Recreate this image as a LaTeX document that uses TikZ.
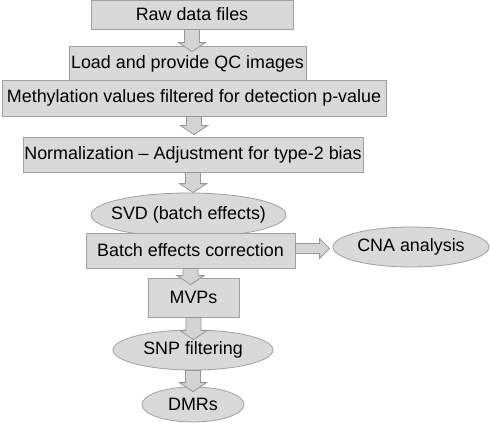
\documentclass[tikz,border=0pt]{standalone}
\usepackage{fontspec}
\setmainfont{Liberation Sans}
\usepackage{tikz}
\usetikzlibrary{calc,shapes.geometric}
\definecolor{boxfill}{RGB}{217,217,217}
\definecolor{boxline}{RGB}{160,160,160}
\definecolor{arrfill}{RGB}{212,212,212}
\definecolor{arrline}{RGB}{150,150,150}

\begin{document}
\begin{tikzpicture}[
      x=1pt, y=-1pt,
      font={\fontsize{17.9}{20}\selectfont},
      stepbox/.style={draw=boxline, fill=boxfill, line width=0.8pt, inner sep=0, align=center},
      roundbox/.style={stepbox, ellipse, inner xsep=-18pt},
      downarrow/.style={draw=arrline, fill=arrfill, line width=0.8pt,
        to path={let \p1=(\tikztostart), \p2=(\tikztotarget) in
          (\x1-7.5pt,\y1) -- (\x1-7.5pt,\y2+9pt) -- (\x1-13.5pt,\y2+9pt) -- (\x1,\y2)
          -- (\x1+13.5pt,\y2+9pt) -- (\x1+7.5pt,\y2+9pt) -- (\x1+7.5pt,\y1) -- cycle}},
      rightarrow/.style={draw=arrline, fill=arrfill, line width=0.8pt,
        to path={let \p1=(\tikztostart), \p2=(\tikztotarget) in
          (\x1,\y1+5pt) -- (\x2-10pt,\y1+5pt) -- (\x2-10pt,\y1+10pt) -- (\x2,\y1)
          -- (\x2-10pt,\y1-10pt) -- (\x2-10pt,\y1-5pt) -- (\x1,\y1-5pt) -- cycle}}
  ]
  \useasboundingbox (0,0) rectangle (490,423);

  \node[stepbox, minimum width=202pt, minimum height=29pt] (raw) at (192,14.5) {Raw data files};
  \node[stepbox, minimum width=237pt, minimum height=35pt] (load) at (187.5,63.5) {Load and provide QC images};
  \node[stepbox, minimum width=384pt, minimum height=36pt] (meth) at (194,98) {Methylation values filtered for detection p-value};
  \node[stepbox, minimum width=340pt, minimum height=35pt] (norm) at (193,154.5) {Normalization – Adjustment for type-2 bias};
  \node[roundbox, minimum width=195pt, minimum height=44pt] (svd) at (188.5,215) {SVD (batch effects)};
  \node[stepbox, minimum width=209pt, minimum height=35pt] (batch) at (190.5,250.5) {Batch effects correction};
  \node[roundbox, minimum width=156pt, minimum height=40pt] (cna) at (411,247) {CNA analysis};
  \node[stepbox, minimum width=91pt, minimum height=39pt] (mvps) at (193.5,297.5) {MVPs};
  \node[roundbox, minimum width=160pt, minimum height=40pt] (snp) at (193,350) {SNP filtering};
  \node[roundbox, minimum width=102pt, minimum height=35pt] (dmrs) at (193,404.5) {DMRs};

  \draw[downarrow] (raw.south) to ([yshift=-6pt]load.north);
  \draw[downarrow] (meth.south) to ([yshift=2pt]norm.north);
  \draw[downarrow] (norm.south) to (svd.north);
  \draw[downarrow] (batch.south) to ([yshift=-7pt]mvps.north);
  \draw[downarrow] (mvps.south) to ([yshift=-10pt]snp.north);
  \draw[downarrow] (snp.south) to ([yshift=-5pt]dmrs.north);
  \draw[rightarrow] ([yshift=2pt]batch.east) to ([xshift=-3pt]cna.west);

\end{tikzpicture}
\end{document}
